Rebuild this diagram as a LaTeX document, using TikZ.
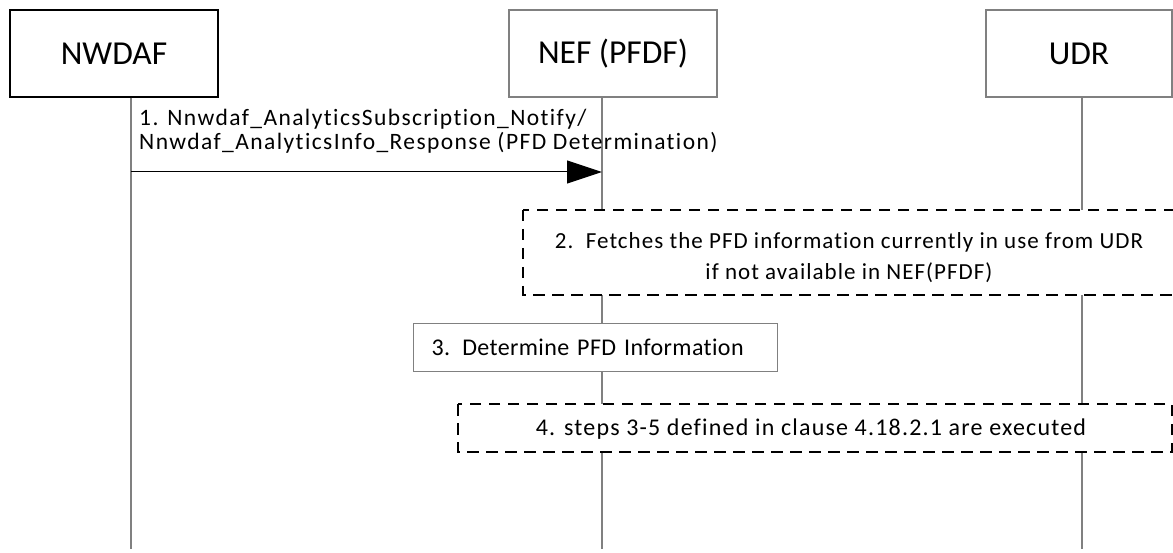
\documentclass[tikz,border=0pt]{standalone}
\usepackage{fontspec}
\setmainfont{Carlito}
\newfontfamily\hdrfam{Carlito}
\newfontfamily\stepA[LetterSpace=6,Ligatures=CommonOff]{Carlito}
\newfontfamily\stepB[LetterSpace=4.5,Ligatures=CommonOff]{Carlito}
\newfontfamily\stepC[LetterSpace=1.6,Ligatures=CommonOff]{Carlito}
\newfontfamily\stepD[LetterSpace=5,Ligatures=CommonOff]{Carlito}
\usetikzlibrary{arrows.meta}
\definecolor{lifegray}{RGB}{128,128,128}
\begin{document}
\begin{tikzpicture}[x=1pt,y=-1pt,
  hdr/.style={draw=lifegray, line width=1.3pt, fill=white, minimum width=208pt,
    minimum height=87pt, inner sep=0pt, font=\hdrfam\fontsize{33.5}{40}\selectfont},
  life/.style={draw=lifegray, line width=1.2pt},
  msg/.style={draw=black, line width=1pt, -{Triangle[length=35pt,width=23pt]}},
  dashbox/.style={draw=black, line width=1.3pt, fill=white, dash pattern=on 11.5pt off 7.5pt},
  procbox/.style={draw=lifegray, line width=1.3pt, fill=white},
  lbl/.style={inner sep=0pt}]
\useasboundingbox (0,0) rectangle (1173,553);
\clip (0,0) rectangle (1173,553);

% participants
\node[hdr, draw=black] (nwdaf) at (114,53.5) {NWDAF};
\node[hdr] (nef) at (613,53.5) {NEF (PFDF)};
\node[hdr, minimum width=186pt] (udr) at (1079,53.5) {UDR};

% lifelines
\coordinate (nwdafEnd) at (131,549);
\coordinate (nefEnd) at (602,549);
\coordinate (udrEnd) at (1082,549);
\draw[life] (nwdaf.south -| nwdafEnd) -- (nwdafEnd);
\draw[life] (nef.south -| nefEnd) -- (nefEnd);
\draw[life] (udr.south -| udrEnd) -- (udrEnd);

% step 1
\coordinate (y1) at (0,172);
\draw[msg] (nwdafEnd |- y1) -- (nefEnd |- y1);
\node[lbl, anchor=base west, align=left, font=\stepA\fontsize{23.5}{24}\selectfont] (t1) at (139,150)
  {1. Nnwdaf\_AnalyticsSubscription\_Notify/\\Nnwdaf\_AnalyticsInfo\_Response (PFD Determination)};

% step 2
\draw[dashbox] (523,210) rectangle (1182,295);
\node[lbl, anchor=base, align=center, font=\stepB\fontsize{23}{32}\selectfont] (t2) at (849,280)
  {2.\ \ Fetches the PFD information currently in use from UDR\\if not available in NEF(PFDF)};

% step 3
\node[procbox, anchor=north west, minimum width=364pt, minimum height=48pt, text width=328pt,
  align=left, inner xsep=18pt, inner ysep=0pt, font=\stepC\fontsize{24}{28}\selectfont] (s3) at (413,323)
  {3. Determine PFD Information};

% step 4
\draw[dashbox] (458,404) rectangle (1172,452);
\node[lbl, anchor=base, font=\stepD\fontsize{24}{28}\selectfont] (t4) at (811,435)
  {4. steps 3-5 defined in clause 4.18.2.1 are executed};
\end{tikzpicture}
\end{document}
